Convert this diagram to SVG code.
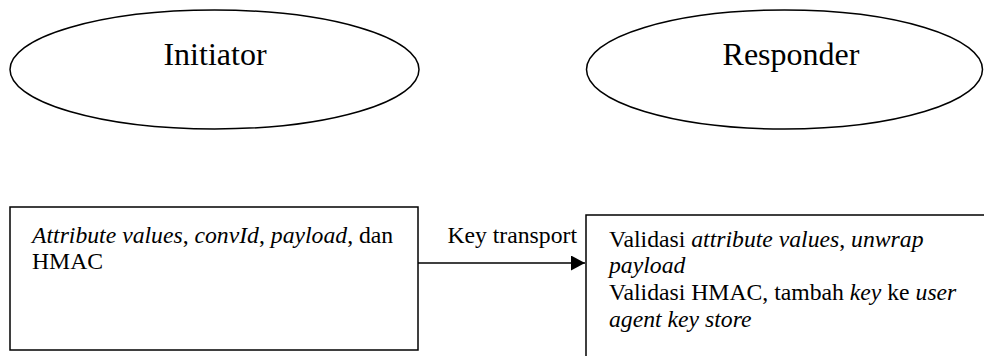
<svg xmlns="http://www.w3.org/2000/svg" width="984" height="356" viewBox="0 0 984 356">
<style>
.shape{fill:#fff;stroke:#000;stroke-width:1.5}
.t{font-family:"Liberation Serif","Times New Roman",serif;fill:#000}
.big{font-size:32px}
.med{font-size:23.7px}
.i{font-style:italic}
.conn{stroke:#000;stroke-width:1.5;fill:none}
</style>
<defs>
<marker id="arr" markerWidth="14" markerHeight="15" refX="14" refY="7.5" orient="auto" markerUnits="userSpaceOnUse">
<path d="M0,0 L14,7.5 L0,15 Z" fill="#000"/>
</marker>
</defs>
<rect width="984" height="356" fill="#fff"/>
<g id="initiator">
<ellipse class="shape" cx="214.5" cy="69.5" rx="204.5" ry="59.5"/>
<text class="t big" x="215" y="65" text-anchor="middle">Initiator</text>
</g>
<g id="responder">
<ellipse class="shape" cx="784.5" cy="69.5" rx="198" ry="59.5"/>
<text class="t big" x="791" y="65" text-anchor="middle">Responder</text>
</g>
<g id="initiator-box">
<rect class="shape" x="10" y="207" width="408" height="143"/>
<text class="t med" x="32" y="242.5"><tspan class="i">Attribute values</tspan>, <tspan class="i">convId</tspan>, <tspan class="i">payload</tspan>, dan</text>
<text class="t med" x="32" y="269">HMAC</text>
</g>
<g id="responder-box">
<rect class="shape" x="586" y="215" width="410" height="150"/>
<text class="t med" x="609" y="246.5">Validasi <tspan class="i">attribute values</tspan>, <tspan class="i">unwrap</tspan></text>
<text class="t med i" x="609" y="273.3">payload</text>
<text class="t med" x="609" y="300">Validasi HMAC, tambah <tspan class="i">key</tspan> ke <tspan class="i">user</tspan></text>
<text class="t med i" x="609" y="326.7">agent key store</text>
</g>
<g id="connectors">
<line class="conn" x1="418" y1="263" x2="585" y2="263" marker-end="url(#arr)"/>
<text class="t med" x="577" y="243" text-anchor="end">Key transport</text>
</g>
</svg>
